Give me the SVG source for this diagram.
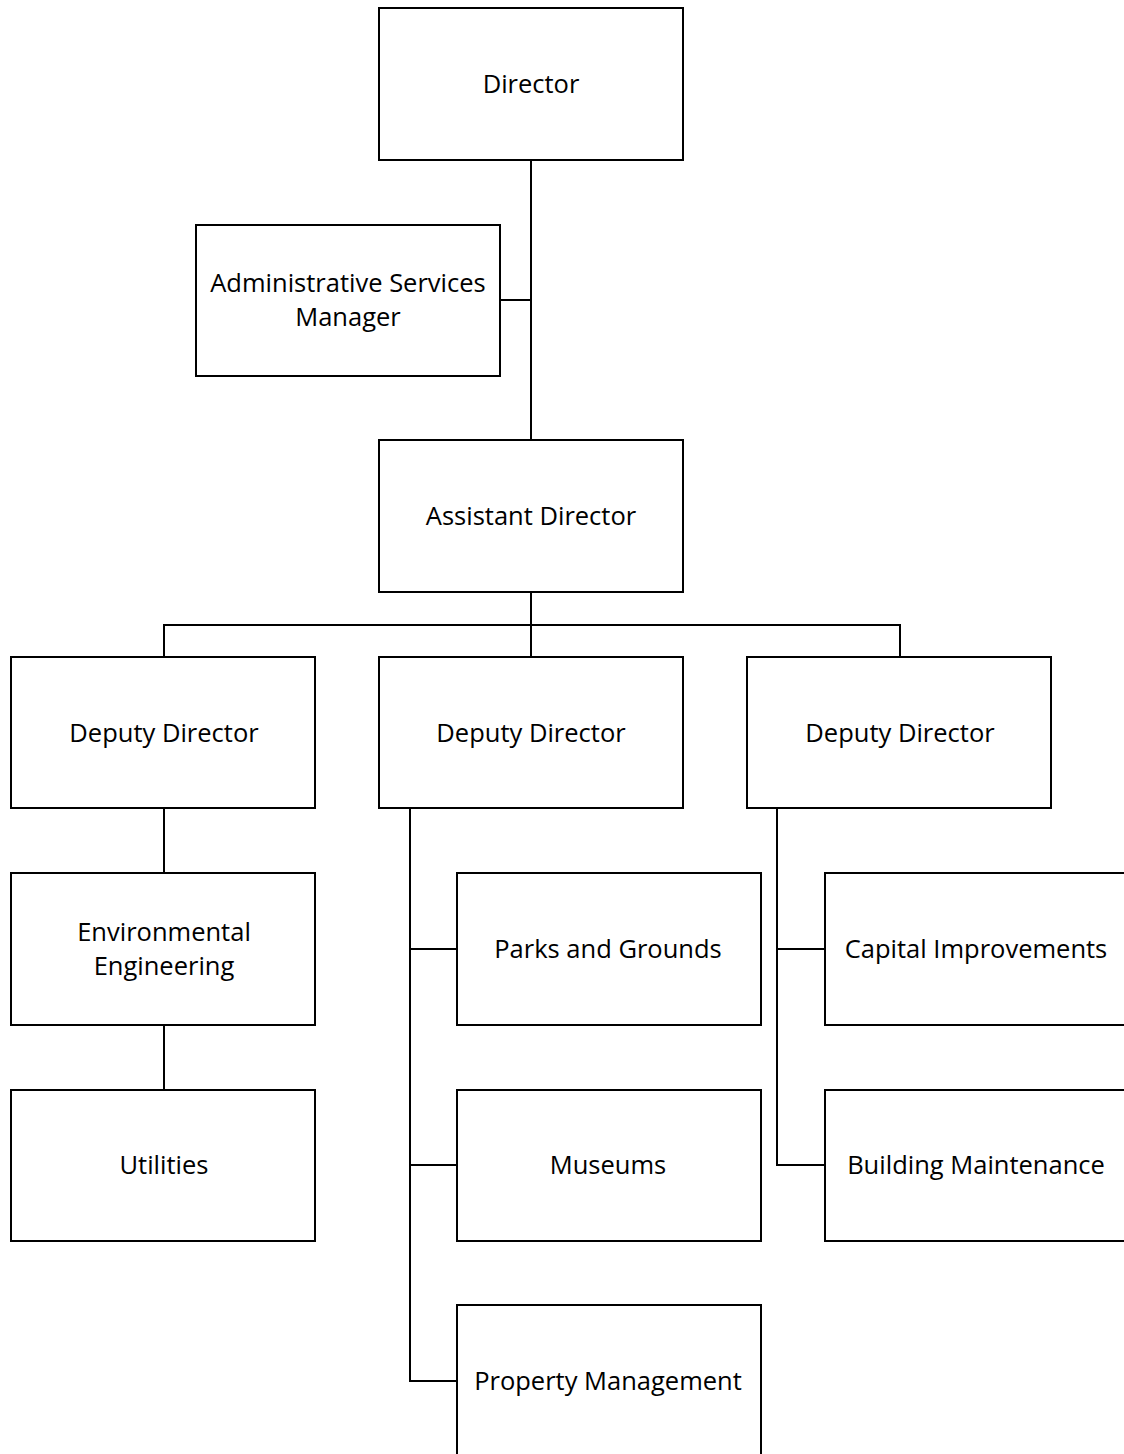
<svg xmlns="http://www.w3.org/2000/svg" width="1124" height="1454" viewBox="0 0 1124 1454">
<style>
.box{fill:#fff;stroke:#000;stroke-width:2}
.lbl{font-family:"Open Sans","Liberation Sans",sans-serif;font-size:25.5px;fill:#000;text-anchor:middle;dominant-baseline:central}
.con{fill:none;stroke:#000;stroke-width:2}
</style>
<rect width="1124" height="1454" fill="#fff"/>
<g id="connectors">
<path class="con" d="M531 160V440"/>
<path class="con" d="M500 300H531"/>
<path class="con" d="M531 592V657M164 657V625H900V657"/>
<path class="con" d="M164 808V873M164 1025V1090"/>
<path class="con" d="M410 808V1381H457M410 949H457M410 1165H457"/>
<path class="con" d="M777 808V1165H825M777 949H825"/>
</g>
<g id="director"><rect class="box" x="379" y="8" width="304" height="152"/><text class="lbl" x="531" y="83">Director</text></g>
<g id="admin"><rect class="box" x="196" y="225" width="304" height="151"/><text class="lbl" x="348" y="282">Administrative Services</text><text class="lbl" x="348" y="316">Manager</text></g>
<g id="assistant"><rect class="box" x="379" y="440" width="304" height="152"/><text class="lbl" x="531" y="515">Assistant Director</text></g>
<g id="deputy1"><rect class="box" x="11" y="657" width="304" height="151"/><text class="lbl" x="164" y="732">Deputy Director</text></g>
<g id="deputy2"><rect class="box" x="379" y="657" width="304" height="151"/><text class="lbl" x="531" y="732">Deputy Director</text></g>
<g id="deputy3"><rect class="box" x="747" y="657" width="304" height="151"/><text class="lbl" x="900" y="732">Deputy Director</text></g>
<g id="enveng"><rect class="box" x="11" y="873" width="304" height="152"/><text class="lbl" x="164" y="931">Environmental</text><text class="lbl" x="164" y="965">Engineering</text></g>
<g id="utilities"><rect class="box" x="11" y="1090" width="304" height="151"/><text class="lbl" x="164" y="1164">Utilities</text></g>
<g id="parks"><rect class="box" x="457" y="873" width="304" height="152"/><text class="lbl" x="608" y="948">Parks and Grounds</text></g>
<g id="museums"><rect class="box" x="457" y="1090" width="304" height="151"/><text class="lbl" x="608" y="1164">Museums</text></g>
<g id="property"><rect class="box" x="457" y="1305" width="304" height="160"/><text class="lbl" x="608" y="1380">Property Management</text></g>
<g id="capital"><rect class="box" x="825" y="873" width="310" height="152"/><text class="lbl" x="976" y="948">Capital Improvements</text></g>
<g id="building"><rect class="box" x="825" y="1090" width="310" height="151"/><text class="lbl" x="976" y="1164">Building Maintenance</text></g>
</svg>
